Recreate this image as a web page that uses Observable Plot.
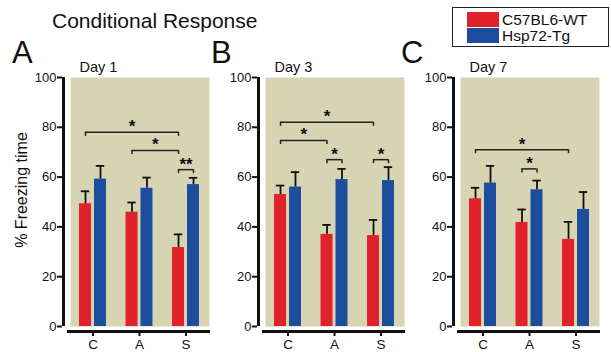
<!DOCTYPE html>
<html><head><meta charset="utf-8">
<script src="https://cdn.jsdelivr.net/npm/d3@7"></script>
<script src="https://cdn.jsdelivr.net/npm/@observablehq/plot@0.6"></script>
<style>
html,body{margin:0;padding:0;background:#fff;}
body{width:611px;height:352px;position:relative;overflow:hidden;font-family:"Liberation Sans",Arial,sans-serif;color:#111;}
.abs{position:absolute;white-space:nowrap;line-height:1;z-index:5;}
#title{left:52px;top:10px;font-size:21px;}
.letter{font-size:31px;top:37px;}
#legend{position:absolute;left:452px;top:7px;width:155px;height:38px;border:1px solid #222;background:#fff;z-index:5;}
.sw{position:absolute;width:32px;height:15px;left:14px;}
.lt{position:absolute;left:49px;font-size:15.5px;line-height:1;white-space:nowrap;}
.panel{position:absolute;top:0;}
</style></head><body>
<div id="title" class="abs">Conditional Response</div>
<div id="legend"></div>
<div id="panels"></div>
<script>
// ---- data ----
const categories = ["C", "A", "S"];
const days = ["Day 1", "Day 3", "Day 7"];
const panelLetters = ["A", "B", "C"];
const seriesNames = ["C57BL6-WT", "Hsp72-Tg"];
const seriesColors = ["#e2222a", "#1d4e9e"];
const yTicks = [0, 20, 40, 60, 80, 100];

// % freezing time (mean, SEM) per category C, A, S
const day1WT = [49.3, 45.9, 31.7];
const day1WTsem = [5.0, 3.9, 5.3];
const day1Tg = [59.2, 55.5, 57.0];
const day1Tgsem = [5.3, 4.3, 2.7];

const day3WT = [53.0, 37.0, 36.5];
const day3WTsem = [3.6, 3.8, 6.3];
const day3Tg = [56.0, 59.0, 58.6];
const day3Tgsem = [6.0, 4.3, 5.4];

const day7WT = [51.3, 41.8, 35.0];
const day7WTsem = [4.4, 5.2, 7.0];
const day7Tg = [57.6, 54.9, 47.0];
const day7Tgsem = [6.9, 3.7, 7.0];

// significance brackets: from (category, series index) to (category, series index), at level y
const day1Brackets = [
  {a: "C", sa: 0, b: "S", sb: 0, y: 78, mark: "*"},
  {a: "A", sa: 0, b: "S", sb: 0, y: 70.7, mark: "*"},
  {a: "S", sa: 0, b: "S", sb: 1, y: 63, mark: "**"}
];
const day3Brackets = [
  {a: "C", sa: 0, b: "S", sb: 0, y: 82, mark: "*"},
  {a: "C", sa: 0, b: "A", sb: 0, y: 74.7, mark: "*"},
  {a: "A", sa: 0, b: "A", sb: 1, y: 67, mark: "*"},
  {a: "S", sa: 0, b: "S", sb: 1, y: 67, mark: "*"}
];
const day7Brackets = [
  {a: "C", sa: 0, b: "S", sb: 0, y: 71, mark: "*"},
  {a: "A", sa: 0, b: "A", sb: 1, y: 63.3, mark: "*"}
];

// ---- build ----
const FONT = '"Liberation Sans", Arial, sans-serif';
const BG = "#d7d4b4";
const panelsData = [
  {means: [day1WT, day1Tg], sems: [day1WTsem, day1Tgsem], brackets: day1Brackets},
  {means: [day3WT, day3Tg], sems: [day3WTsem, day3Tgsem], brackets: day3Brackets},
  {means: [day7WT, day7Tg], sems: [day7WTsem, day7Tgsem], brackets: day7Brackets}
];
const panelLeft = [0, 195, 390];
const letterLeft = [12, 211, 401];

const dodge = 0.161, barHalf = 0.129, capHalf = 0.09;
const xDomain = [-0.484, 2.505];
const pos = (cat, s) => categories.indexOf(cat) + (s === 0 ? -dodge : dodge);

// legend
const legend = document.getElementById("legend");
seriesNames.forEach((name, i) => {
  const sw = document.createElement("div");
  sw.className = "sw";
  sw.style.top = (4 + i * 16) + "px";
  sw.style.background = seriesColors[i];
  legend.appendChild(sw);
  const t = document.createElement("div");
  t.className = "lt";
  t.style.top = (3.9 + i * 15.7) + "px";
  t.textContent = name;
  legend.appendChild(t);
});

const container = document.getElementById("panels");
panelsData.forEach((p, k) => {
  const rows = [];
  categories.forEach((cat, j) => {
    [0, 1].forEach(s => rows.push({cat, s, series: seriesNames[s], mean: p.means[s][j], sem: p.sems[s][j]}));
  });
  const br = p.brackets;
  const marks = [
    Plot.frame({fill: BG, stroke: "none"}),
    Plot.rect(rows, {x1: d => pos(d.cat, d.s) - barHalf, x2: d => pos(d.cat, d.s) + barHalf, y1: d => 0, y2: "mean", fill: "series"}),
    Plot.ruleX(rows, {x: d => pos(d.cat, d.s), y1: "mean", y2: d => d.mean + d.sem, stroke: "#111", strokeWidth: 1.8}),
    Plot.ruleY(rows, {y: d => d.mean + d.sem, x1: d => pos(d.cat, d.s) - capHalf, x2: d => pos(d.cat, d.s) + capHalf, stroke: "#111", strokeWidth: 1.8}),
    Plot.ruleY(br, {y: "y", x1: d => pos(d.a, d.sa), x2: d => pos(d.b, d.sb), stroke: "#222", strokeWidth: 1.5}),
    Plot.ruleX(br, {x: d => pos(d.a, d.sa), y1: "y", y2: "y", insetBottom: -4, stroke: "#222", strokeWidth: 1.5}),
    Plot.ruleX(br, {x: d => pos(d.b, d.sb), y1: "y", y2: "y", insetBottom: -4, stroke: "#222", strokeWidth: 1.5}),
    Plot.text(br, {x: d => (pos(d.a, d.sa) + pos(d.b, d.sb)) / 2, y: "y", text: "mark", dy: 0, lineAnchor: "bottom", fontSize: 17, fontWeight: "bold"}),
    Plot.axisY({ticks: yTicks, tickSize: 5, tickPadding: 1, dx: -8, strokeWidth: 2, fontSize: 13, label: null}),
    Plot.ruleX([xDomain[0]], {y1: d => 0, y2: d => 100, dx: -7, strokeWidth: 3}),
    Plot.ruleY([0], {dy: 5, strokeWidth: 3, insetLeft: -3, insetRight: -1}),
    Plot.axisX({ticks: [0, 1, 2], tickFormat: i => categories[i], tickSize: 5, tickPadding: 3, dy: 5, strokeWidth: 2, fontSize: 13.5, label: null}),
    Plot.text([days[k]], {frameAnchor: "top-left", dx: 9, dy: -6, lineAnchor: "bottom", textAnchor: "start", fontSize: 14.5})
  ];
  if (k === 0) {
    marks.push(Plot.text(["% Freezing time"], {frameAnchor: "left", rotate: -90, dx: -49, dy: -12, fontSize: 16, lineAnchor: "middle", textAnchor: "middle"}));
  }
  const svg = Plot.plot({
    width: 212, height: 360,
    marginLeft: 70, marginRight: 3, marginTop: 77, marginBottom: 34,
    style: {background: "transparent", fontFamily: FONT, fontSize: "13px", color: "#111", overflow: "visible"},
    x: {type: "linear", domain: xDomain, axis: null},
    y: {domain: [0, 100], axis: null},
    color: {domain: seriesNames, range: seriesColors},
    marks
  });
  const wrap = document.createElement("div");
  wrap.className = "panel";
  wrap.style.left = panelLeft[k] + "px";
  wrap.appendChild(svg);
  container.appendChild(wrap);

  const letter = document.createElement("div");
  letter.className = "abs letter";
  letter.style.left = letterLeft[k] + "px";
  letter.textContent = panelLetters[k];
  document.body.appendChild(letter);
});
</script>
</body></html>
